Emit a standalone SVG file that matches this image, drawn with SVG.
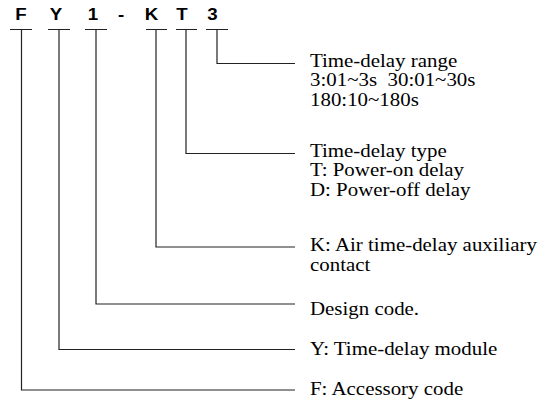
<svg xmlns="http://www.w3.org/2000/svg" width="555" height="404" viewBox="0 0 555 404">
<style>
.code{font-family:"Liberation Sans",Arial,sans-serif;font-weight:bold;font-size:17px;fill:#000;text-anchor:middle}
.lbl{font-family:"Liberation Serif","Times New Roman",serif;font-size:19px;fill:#000}
.ln{fill:none;stroke:#222;stroke-width:1.2}
</style>
<rect width="555" height="404" fill="#fff"/>
<g id="code">
<text class="code" transform="translate(21 19.5) scale(1.1 1)">F</text>
<text class="code" transform="translate(56 19.5) scale(1.1 1)">Y</text>
<text class="code" transform="translate(93 19.5) scale(1.1 1)">1</text>
<text class="code" transform="translate(121 19.5) scale(1.1 1)">-</text>
<text class="code" transform="translate(151.5 19.5) scale(1.1 1)">K</text>
<text class="code" transform="translate(182 19.5) scale(1.1 1)">T</text>
<text class="code" transform="translate(212.5 19.5) scale(1.1 1)">3</text>
</g>
<g id="connectors">
<path class="ln" d="M10 29.5H32M48 29.5H70M85 29.5H107M146 29.5H167M176 29.5H197M206 29.5H228"/>
<path class="ln" d="M217 29.5V63.5H295"/>
<path class="ln" d="M186 29.5V153.5H295"/>
<path class="ln" d="M156 29.5V247H295"/>
<path class="ln" d="M96 29.5V304H295"/>
<path class="ln" d="M59 29.5V349.5H295"/>
<path class="ln" d="M21.5 29.5V390H295"/>
</g>
<g id="range">
<text class="lbl" transform="translate(310 67) scale(1.1 1)"><tspan x="0" y="0">Time-delay range</tspan><tspan x="0" y="19.5" xml:space="preserve">3:01~3s  30:01~30s</tspan><tspan x="0" y="39">180:10~180s</tspan></text>
</g>
<g id="type">
<text class="lbl" transform="translate(310 157) scale(1.1 1)"><tspan x="0" y="0">Time-delay type</tspan><tspan x="0" y="19.5">T: Power-on delay</tspan><tspan x="0" y="39">D: Power-off delay</tspan></text>
</g>
<g id="k">
<text class="lbl" transform="translate(310 251) scale(1.1 1)"><tspan x="0" y="0">K: Air time-delay auxiliary</tspan><tspan x="0" y="20.5">contact</tspan></text>
</g>
<g id="design">
<text class="lbl" transform="translate(310 314.5) scale(1.1 1)">Design code.</text>
</g>
<g id="y">
<text class="lbl" transform="translate(310 355) scale(1.1 1)">Y: Time-delay module</text>
</g>
<g id="f">
<text class="lbl" transform="translate(310 395) scale(1.1 1)">F: Accessory code</text>
</g>
</svg>
